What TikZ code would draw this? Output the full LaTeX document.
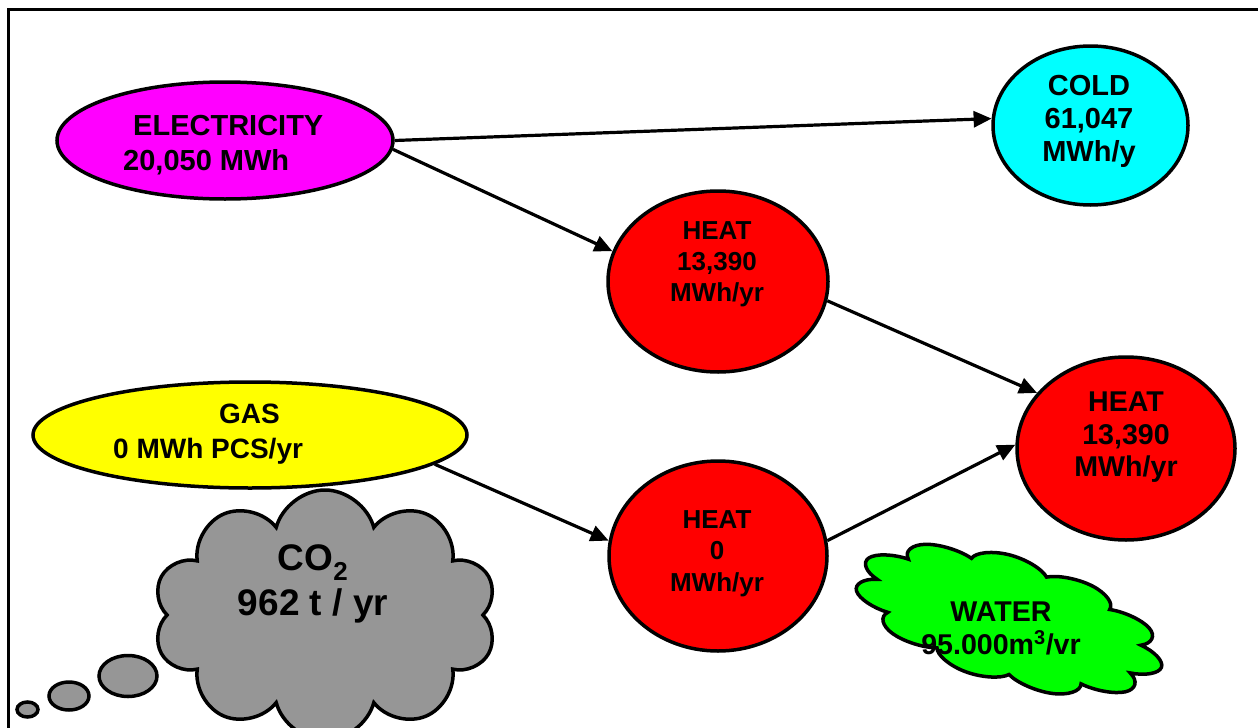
\documentclass[tikz,border=0pt]{standalone}
\usepackage{fontspec}
\setmainfont{Liberation Sans}
\usetikzlibrary{shapes.geometric, shapes.symbols, arrows.meta}

\definecolor{pink}{RGB}{255,0,255}
\definecolor{aqua}{RGB}{0,255,255}
\definecolor{hot}{RGB}{255,0,0}
\definecolor{lemon}{RGB}{255,255,0}
\definecolor{lime}{RGB}{0,255,0}
\definecolor{smoke}{RGB}{150,150,150}

\begin{document}
\begin{tikzpicture}[x=1pt, y=-1pt,
    every node/.style={inner sep=0pt},
    blob/.style={ellipse, draw=black, line width=3.5pt},
    puff/.style={cloud, draw=black, line width=3.5pt},
    txt/.style 2 args={font=\bfseries\fontsize{#1}{#2}\selectfont, align=center, anchor=base},
    flow/.style={line width=3.2pt, -{Triangle[length=18pt,width=16pt]}}]
    \useasboundingbox (0,0) rectangle (1258,728);
    \clip (0,0) rectangle (1258,728);

    % frame
    \draw[line width=3pt] (8.5,9.5) rectangle (1300,760);

    % sources and loads
    \node[blob, fill=pink, minimum width=336pt, minimum height=117pt] (elec) at (225,140.5) {};
    \node[blob, fill=lemon, minimum width=434pt, minimum height=106pt] (gas) at (250,435) {};
    \node[blob, fill=aqua, minimum width=195pt, minimum height=159pt] (cold) at (1090.5,125.5) {};
    \node[blob, fill=hot, minimum width=220pt, minimum height=181pt] (heatA) at (718,281.5) {};
    \node[blob, fill=hot, minimum width=218pt, minimum height=190pt] (heatB) at (718,556) {};
    \node[blob, fill=hot, minimum width=218pt, minimum height=183pt] (heatC) at (1126,448.5) {};

    % clouds
    \node[puff, fill=smoke, cloud puffs=10, minimum width=344pt, minimum height=250pt] (co2) at (325,615) {};
    \foreach \b/\x/\y/\w/\h in {1/128/676/58/41, 2/69/696/40/28, 3/27.5/709.5/21/15}
        \node[blob, fill=smoke, minimum width=\w pt, minimum height=\h pt] (bub\b) at (\x,\y) {};
    \begin{scope}[shift={(1009,620)}, yslant=-0.25, yscale=0.45]
        \node[puff, fill=lime, transform shape, cloud puffs=11,
            minimum width=308pt, minimum height=290pt] (water) at (0,0) {};
    \end{scope}

    % texts
    \node[txt={29}{35}, align=left, anchor=base west] (elecT) at (123,170)
        {\hspace*{10pt}ELECTRICITY\\20,050 MWh};
    \node[txt={28}{35}, align=left, anchor=base west] (gasT) at (113,458)
        {\hspace*{106pt}GAS\\0 MWh PCS/yr};
    \node[txt={29}{33.3}] (coldT) at (1089,161.7) {COLD\\61,047\\MWh/y};
    \node[txt={26}{31}] (heatAT) at (717,301.7) {HEAT\\13,390\\MWh/yr};
    \node[txt={26}{31.8}] (heatBT) at (717,591.7) {HEAT\\0\\MWh/yr};
    \node[txt={28.6}{32.5}] (heatCT) at (1126,476.7) {HEAT\\13,390\\MWh/yr};
    \node[txt={37}{44.3}] (co2T) at (313,615) {CO\textsubscript{2}\\962 t / yr};
    \node[txt={28.6}{32.3}] (waterT) at (1001,654) {WATER\\95.000m\textsuperscript{3}/vr};

    % flows
    \draw[flow] (elec.east) -- (cold.176);
    \draw[flow] (elec.357) -- (heatA.164);
    \draw[flow] (heatA.350) -- (heatC.148);
    \draw[flow] (gas.351) -- (heatB.172);
    \draw[flow] (heatB.8) -- (heatC.178);
\end{tikzpicture}
\end{document}
